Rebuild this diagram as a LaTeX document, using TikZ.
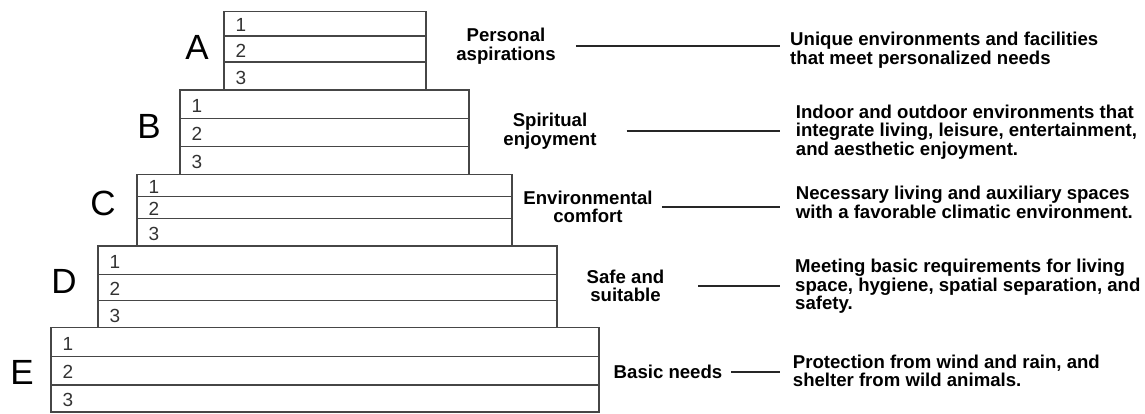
\documentclass[tikz,border=0pt]{standalone}
\usepackage{fontspec}
\setmainfont{Liberation Sans}
\usetikzlibrary{positioning}
\definecolor{boxgray}{RGB}{70,70,70}
\definecolor{digitgray}{RGB}{50,50,50}

\begin{document}
\begin{tikzpicture}[
    x=1pt, y=-1pt,
    tierrow/.style={
      draw=boxgray, line width=1.4pt, outer sep=0pt, inner sep=0pt,
      anchor=north west
    },
    digit/.style={font=\fontsize{19}{19}\selectfont, text=digitgray, inner sep=0pt},
    tierletter/.style={font=\fontsize{35}{35}\selectfont, inner sep=0pt},
    level/.style={
      font=\bfseries\fontsize{18.6}{18.5}\selectfont, align=center, inner sep=0pt
    },
    desc/.style={
      font=\bfseries\fontsize{18.6}{18.5}\selectfont, align=left, inner sep=0pt,
      anchor=north west
    },
    link/.style={line width=1.8pt, black!85},
]
    \useasboundingbox (0,0) rectangle (1145,413);

    % Stacked tiers, three rows each
    \foreach \t/\l/\r/\ya/\yb/\yc/\yd in {
        A/224/426/11.3/36/62/90,
        B/180/469/90/118.5/146.5/174.3,
        C/137/512/174.3/196.5/218.4/246,
        D/98/557/246/274.6/300.5/327.7,
        E/51/599/327.7/356.7/385/412}{
      \node[tierrow, minimum width={(\r-\l)*1pt}, minimum height={(\yb-\ya)*1pt}]
        (\t1) at (\l,\ya) {};
      \node[tierrow, minimum width={(\r-\l)*1pt}, minimum height={(\yc-\yb)*1pt}]
        (\t2) at (\l,\yb) {};
      \node[tierrow, minimum width={(\r-\l)*1pt}, minimum height={(\yd-\yc)*1pt}]
        (\t3) at (\l,\yc) {};
      \foreach \k in {1,2,3}
        \node[digit] (n\t\k) at ([xshift=17pt, yshift=-1.5pt]\t\k.west) {\k};
    }

    % Tier letters
    \node[tierletter] (letA) at (197,47.5) {A};
    \node[tierletter] (letB) at (149,126.5) {B};
    \node[tierletter] (letC) at (103,203) {C};
    \node[tierletter] (letD) at (64,281) {D};
    \node[tierletter] (letE) at (22,372) {E};

    % Level names
    \node[level] (labA) at (506,46) {Personal\\aspirations};
    \node[level] (labB) at (550,131) {Spiritual\\enjoyment};
    \node[level] (labC) at (588,207) {Environmental\\comfort};
    \node[level] (labD) at (625.5,286) {Safe and\\suitable};
    \node[level] (labE) at (668,372) {Basic needs};

    % Descriptions
    \node[desc] (descA) at (790,32.2)
      {Unique environments and facilities\\that meet personalized needs};
    \node[desc] (descB) at (795.7,104.8)
      {Indoor and outdoor environments that\\integrate living, leisure, entertainment,\\and aesthetic enjoyment.};
    \node[desc] (descC) at (795.7,186)
      {Necessary living and auxiliary spaces\\with a favorable climatic environment.};
    \node[desc] (descD) at (795,259.2)
      {Meeting basic requirements for living\\space, hygiene, spatial separation, and\\safety.};
    \node[desc] (descE) at (792.7,354.5)
      {Protection from wind and rain, and\\shelter from wild animals.};

    % Connectors
    \foreach \t/\s/\e in {A/20/10, B/30/16, C/9/16, D/34/15, E/9/12.7}
      \draw[link, shorten <=\s pt, shorten >=\e pt]
        (lab\t.east) -- (lab\t.east -| desc\t.west);
\end{tikzpicture}
\end{document}
